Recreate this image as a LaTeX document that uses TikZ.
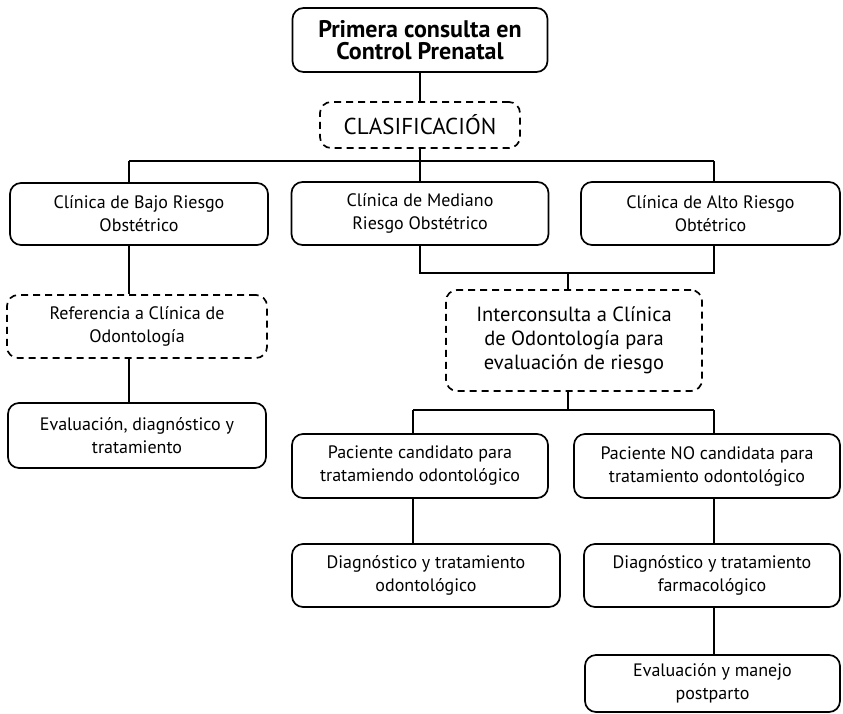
\documentclass[tikz,border=0pt]{standalone}
\usepackage{fontspec}
\setmainfont{PT Sans}
\usepackage{tikz}

\begin{document}
\begin{tikzpicture}[x=1pt,y=-1pt,
    solidbox/.style={draw,line width=1.7pt,rounded corners=11pt,align=center,inner sep=0pt,
        font=\fontsize{18}{23}\selectfont},
    dashbox/.style={solidbox,dash pattern=on 7pt off 5pt},
    link/.style={line width=1.7pt}]
    \useasboundingbox (0,0) rectangle (843,713);

    \node[solidbox,minimum width=255pt,minimum height=64pt,font=\bfseries\fontsize{24}{22}\selectfont] (prim) at (420,40) {Primera consulta en\\Control Prenatal};
    \node[dashbox,minimum width=200pt,minimum height=46pt,font=\fontsize{23}{25}\selectfont] (clas) at (420,125) {CLASIFICACIÓN};

    \node[solidbox,minimum width=258pt,minimum height=62pt] (bajo) at (139,214) {Clínica de Bajo Riesgo\\Obstétrico};
    \node[solidbox,minimum width=257pt,minimum height=63pt] (mediano) at (420,213.5) {Clínica de Mediano\\Riesgo Obstétrico};
    \node[solidbox,minimum width=259pt,minimum height=63pt] (alto) at (710.5,213.5) {Clínica de Alto Riesgo\\Obtétrico};

    \node[dashbox,minimum width=260pt,minimum height=63pt] (refer) at (137,326.5) {Referencia a Clínica de\\Odontología};
    \node[solidbox,minimum width=258pt,minimum height=65pt] (evalua) at (137,435.5) {Evaluación, diagnóstico y\\tratamiento};

    \node[dashbox,minimum width=256pt,minimum height=101pt,font=\fontsize{20.5}{24}\selectfont] (inter) at (574,340.5) {Interconsulta a Clínica\\de Odontología para\\evaluación de riesgo};

    \node[solidbox,minimum width=256pt,minimum height=64pt] (cand) at (420,466) {Paciente candidato para\\tratamiendo odontológico};
    \node[solidbox,minimum width=266pt,minimum height=64pt] (nocand) at (707,466) {Paciente NO candidata para\\tratamiento odontológico};
    \node[solidbox,minimum width=268pt,minimum height=63pt] (diagodo) at (426,575.5) {Diagnóstico y tratamiento\\odontológico};
    \node[solidbox,minimum width=256pt,minimum height=63pt] (diagfar) at (712,575.5) {Diagnóstico y tratamiento\\farmacológico};
    \node[solidbox,minimum width=255pt,minimum height=57pt] (postp) at (712.5,683.5) {Evaluación y manejo\\postparto};

    \coordinate (busL) at (129,161);
    \coordinate (busR) at (714,161);
    \coordinate (busM) at (568,273);
    \coordinate (busP) at (568,410);
    \coordinate (candL) at (413,410);
    \coordinate (candR) at (714,410);

    \draw[link] (prim) -- (clas);
    \draw[link] (clas) -- (mediano);
    \draw[link] (busL) -- (busR);
    \draw[link] (busL) -- (busL |- bajo.north);
    \draw[link] (busR) -- (busR |- alto.north);

    \draw[link] (busL |- bajo.south) -- (busL |- refer.north);
    \draw[link] (busL |- refer.south) -- (busL |- evalua.north);

    \draw[link] (mediano) |- (busM);
    \draw[link] (busM) -| (busR |- alto.south);
    \draw[link] (busM) -- (busM |- inter.north);

    \draw[link] (busP |- inter.south) -- (busP);
    \draw[link] (candL) -- (candR);
    \draw[link] (candL) -- (candL |- cand.north);
    \draw[link] (candR) -- (candR |- nocand.north);
    \draw[link] (candL |- cand.south) -- (candL |- diagodo.north);
    \draw[link] (candR |- nocand.south) -- (candR |- diagfar.north);
    \draw[link] (candR |- diagfar.south) -- (candR |- postp.north);
\end{tikzpicture}
\end{document}
